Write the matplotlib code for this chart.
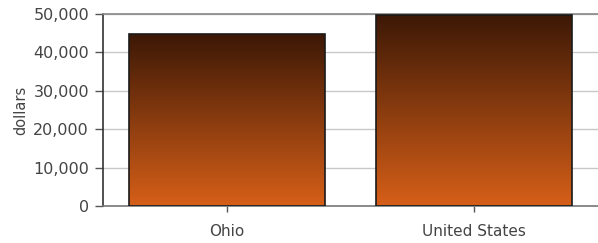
import numpy as np
import matplotlib.pyplot as plt
from matplotlib.colors import LinearSegmentedColormap
from matplotlib.ticker import FuncFormatter

# values
categories = ["Ohio", "United States"]
values = [44700, 49800]
y_ticks = [0, 10000, 20000, 30000, 40000, 50000]

text_color = "#444444"
grad = LinearSegmentedColormap.from_list("brown", ["#d65f18", "#3c1806"])

fig = plt.figure(figsize=(5.98, 2.43), dpi=100)
ax = fig.add_axes([103 / 598, 37 / 243, 495 / 598, 192 / 243])

x = np.arange(len(categories))
width = 0.79
bars = ax.bar(x, values, width=width, facecolor="none",
              edgecolor="#1a1a1a", linewidth=1.2, zorder=3)

# vertical gradient fill for each bar
ramp = np.linspace(0, 1, 256).reshape(-1, 1)
for b in bars:
    x0, y0 = b.get_x(), b.get_y()
    ax.imshow(ramp, cmap=grad, origin="lower", aspect="auto",
              extent=[x0, x0 + b.get_width(), y0, y0 + b.get_height()],
              zorder=2)

ax.set_xlim(-0.5, 1.5)
ax.set_ylim(0, 50000)
ax.set_xticks(x)
ax.set_xticklabels(categories)
ax.set_yticks(y_ticks)
ax.yaxis.set_major_formatter(FuncFormatter(lambda v, p: f"{int(v):,}"))

ax.grid(axis="y", color="#c8c8c8", linewidth=1.0, zorder=0)
ax.set_axisbelow(True)

ax.spines["right"].set_visible(False)
ax.spines["top"].set_color("#888888")
ax.spines["left"].set_color("#333333")
ax.spines["bottom"].set_color("#777777")
for s in ["top", "left", "bottom"]:
    ax.spines[s].set_linewidth(1.2)

ax.tick_params(axis="y", length=6, width=1, color="#555555",
               labelsize=11.5, labelcolor=text_color, pad=4)
ax.tick_params(axis="x", length=4, width=1, color="#555555",
               labelsize=11, labelcolor=text_color, pad=9)
ax.set_ylabel("dollars", fontsize=10.5, color=text_color)
ax.yaxis.set_label_coords(-0.152, 0.5)

fig.savefig("out.png", dpi=100)
